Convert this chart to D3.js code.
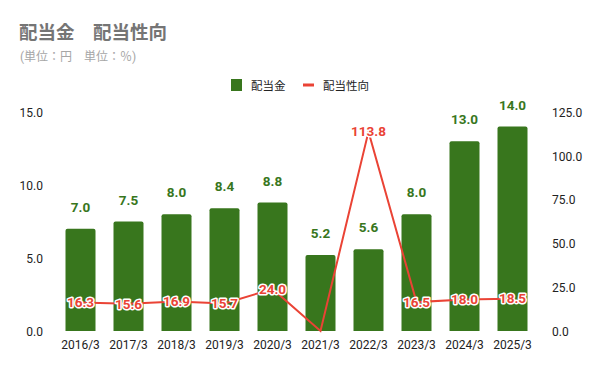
<!DOCTYPE html>
<html>
<head>
<meta charset="utf-8">
<script src="https://cdn.jsdelivr.net/npm/d3@7"></script>
<style>
  body { margin: 0; background: #fff; }
  text { font-family: Roboto, "Noto Sans CJK JP", sans-serif; }
</style>
</head>
<body>
<script>
const width = 600,
  height = 371;

// データ
const years = ['2016/3', '2017/3', '2018/3', '2019/3', '2020/3', '2021/3', '2022/3', '2023/3', '2024/3', '2025/3'];
const dividend = [7.0, 7.5, 8.0, 8.4, 8.8, 5.2, 5.6, 8.0, 13.0, 14.0];
const payout = [16.3, 15.6, 16.9, 15.7, 24.0, 0, 113.8, 16.5, 18.0, 18.5];
const leftTicks = [0, 5, 10, 15];
const rightTicks = [0, 25, 50, 75, 100, 125];

const green = '#38761d',
  red = '#ea4335';

const svg = d3
  .select('body')
  .append('svg')
  .attr('width', width)
  .attr('height', height);

// タイトル
svg.append('text')
  .attr('x', 19).attr('y', 39)
  .attr('font-family', '"Noto Sans CJK JP", sans-serif')
  .attr('font-size', 18.5).attr('font-weight', 'bold')
  .attr('fill', '#757575')
  .text('配当金　配当性向');

svg.append('text')
  .attr('x', 20).attr('y', 61)
  .attr('font-size', 12)
  .attr('fill', '#a6a6a6')
  .text('(単位：円　単位：％)');

// 凡例
svg.append('rect')
  .attr('x', 231).attr('y', 79).attr('width', 11).attr('height', 12)
  .attr('fill', green);
svg.append('text')
  .attr('x', 251).attr('y', 90)
  .attr('font-size', 11.5).attr('fill', '#222')
  .text('配当金');
svg.append('line')
  .attr('x1', 303).attr('x2', 314).attr('y1', 85).attr('y2', 85)
  .attr('stroke', red).attr('stroke-width', 3);
svg.append('text')
  .attr('x', 323).attr('y', 90)
  .attr('font-size', 11.5).attr('fill', '#222')
  .text('配当性向');

// スケール
const x = d3.scaleBand()
  .domain(years)
  .range([56.5, 536.5])
  .paddingInner(0.375)
  .paddingOuter(0.1875);

const yL = d3.scaleLinear().domain([0, 15]).range([331, 112]);
const yR = d3.scaleLinear().domain([0, 125]).range([331, 112]);

// 軸
const axisL = svg.append('g')
  .attr('transform', 'translate(43,0)')
  .call(d3.axisLeft(yL).tickValues(leftTicks).tickFormat(d3.format('.1f')).tickSize(0).tickPadding(0));
const axisR = svg.append('g')
  .attr('transform', 'translate(552,0)')
  .call(d3.axisRight(yR).tickValues(rightTicks).tickFormat(d3.format('.1f')).tickSize(0).tickPadding(0));
const axisB = svg.append('g')
  .attr('transform', 'translate(0,331)')
  .call(d3.axisBottom(x).tickSize(0).tickPadding(9));

[axisL, axisR, axisB].forEach(g => {
  g.select('.domain').remove();
  g.selectAll('text')
    .attr('font-family', 'Roboto, sans-serif')
    .attr('font-size', 12)
    .attr('fill', '#222');
});
axisL.selectAll('text').attr('dy', '0.35em');
axisR.selectAll('text').attr('dy', '0.35em');

// 棒
svg.append('g')
  .selectAll('path')
  .data(dividend)
  .join('path')
  .attr('fill', green)
  .attr('d', (d, i) => {
    const x0 = x(years[i]), w = x.bandwidth(), y0 = yL(d), b = yL(0), r = 2;
    return `M${x0},${b}V${y0 + r}Q${x0},${y0} ${x0 + r},${y0}H${x0 + w - r}Q${x0 + w},${y0} ${x0 + w},${y0 + r}V${b}Z`;
  });

svg.append('g')
  .selectAll('text')
  .data(dividend)
  .join('text')
  .attr('x', (d, i) => x(years[i]) + x.bandwidth() / 2)
  .attr('y', d => yL(d) - 17)
  .attr('text-anchor', 'middle')
  .attr('font-size', 13.5).attr('font-weight', 'bold')
  .attr('fill', green)
  .text(d => d.toFixed(1));

// 折れ線
const line = d3.line()
  .x((d, i) => x(years[i]) + x.bandwidth() / 2)
  .y(d => yR(d));

svg.append('path')
  .datum(payout)
  .attr('fill', 'none')
  .attr('stroke', red)
  .attr('stroke-width', 2)
  .attr('d', line);

svg.append('g')
  .selectAll('text')
  .data(payout.map((d, i) => ({ v: d, year: years[i] })).filter(d => d.v > 0))
  .join('text')
  .attr('x', d => x(d.year) + x.bandwidth() / 2)
  .attr('y', d => yR(d.v))
  .attr('dy', '0.36em')
  .attr('text-anchor', 'middle')
  .attr('font-size', 13.5).attr('font-weight', 'bold')
  .attr('fill', red)
  .attr('stroke', '#fff').attr('stroke-width', 3)
  .attr('stroke-linejoin', 'round')
  .attr('paint-order', 'stroke')
  .text(d => d.v.toFixed(1));
</script>
</body>
</html>
